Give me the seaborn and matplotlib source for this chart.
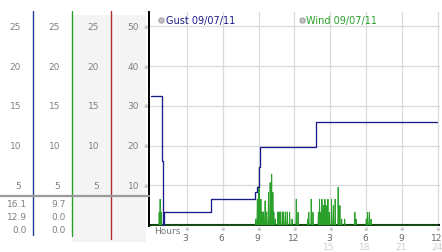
import matplotlib
matplotlib.use("Agg")
import matplotlib.pyplot as plt
import matplotlib.transforms as mtrans
import seaborn as sns
import pandas as pd

# ---------------- data ----------------
gust_hours = [0.0, 0.96, 1.04, 1.12, 5.05, 8.70, 8.85, 9.00, 9.12, 13.78, 23.9]
gust_values = [32.4, 16.1, 0.0, 3.2, 6.5, 8.2, 9.5, 14.5, 19.6, 25.9, 25.9]

wind_spike_hours = [0.70, 0.78, 0.88, 8.77, 8.90, 9.00, 9.07, 9.20, 9.30, 9.42, 9.55, 9.68,
                    9.83, 9.97, 10.10, 10.20, 10.28, 10.40, 10.62, 10.72, 10.82, 10.98,
                    11.10, 11.25, 11.40, 11.60, 11.80, 12.15, 12.30, 13.10, 13.20, 13.40,
                    13.55, 14.00, 14.10, 14.20, 14.30, 14.42, 14.55, 14.65, 14.80, 14.92,
                    15.10, 15.25, 15.40, 15.65, 15.80, 15.95, 16.20, 17.05, 17.15, 18.00,
                    18.10, 18.25, 18.40]
wind_spike_values = [3.2, 6.5, 3.2, 1.5, 6.5, 9.6, 14.6, 6.5, 3.3, 3.3, 6.1, 3.3,
                     8.2, 10.7, 12.8, 8.2, 3.3, 1.5, 3.3, 3.3, 3.3, 3.3,
                     3.3, 3.3, 3.3, 3.2, 1.5, 6.5, 3.2, 1.5, 3.2, 6.5,
                     3.2, 3.2, 6.5, 3.2, 6.5, 4.9, 6.5, 4.9, 6.5, 3.2,
                     6.5, 4.9, 6.5, 9.5, 4.9, 1.5, 1.5, 3.2, 1.5, 1.5,
                     3.2, 3.2, 1.5]

left_col_ticks = [25, 20, 15, 10, 5]
main_y_ticks = [50, 40, 30, 20, 10]
x_ticks = [3, 6, 9, 12, 15, 18, 21, 24]
x_tick_labels = ["3", "6", "9", "12", "3", "6", "9", "12"]
x_tick_faint = ["", "", "", "", "15", "18", "21", "24"]
col1_stats = ["16.1", "12.9", "0.0"]
col2_stats = ["9.7", "0.0", "0.0"]
gust_label = "Gust 09/07/11"
wind_label = "Wind 09/07/11"

# ---------------- styling ----------------
sns.set_style("white")
plt.rcParams["font.family"] = ["DejaVu Sans"]

W, H = 442, 253
fig = plt.figure(figsize=(W / 100, H / 100), dpi=100)

def fx(px):
    return px / W

def fy(py):
    return 1 - py / H

NAVY = "#1c1c8a"
GREEN = "#2aa02a"
TXT = "#808080"

# main axes
ax = fig.add_axes([fx(149), fy(227), fx(440) - fx(149), fy(13) - fy(227)])
ax.set_xlim(-0.15, 24.16)
ax.set_ylim(-0.25, 53.65)
ax.set_xticks(x_ticks)
ax.set_yticks(main_y_ticks)
ax.grid(True, color="#dadada", linewidth=0.9)
ax.tick_params(length=0, labelbottom=False, labelleft=False)
for s in ["top", "right", "bottom"]:
    ax.spines[s].set_visible(False)
ax.spines["left"].set_color("black")
ax.spines["left"].set_linewidth(1.4)

# wind series built from spikes
wx, wy = [0.0], [0.0]
for h, v in zip(wind_spike_hours, wind_spike_values):
    wx += [h - 0.035, h, h + 0.035]
    wy += [0.0, v, 0.0]
wx.append(24.0)
wy.append(0.0)
wind_df = pd.DataFrame({"hour": wx, "value": wy})
gust_df = pd.DataFrame({"hour": gust_hours, "value": gust_values})

ax.axhline(0, color="black", linewidth=1.5, zorder=2)
ax.axhline(-0.2, color="#66cc66", linewidth=0.8, zorder=2)
sns.lineplot(data=wind_df, x="hour", y="value", ax=ax, color=GREEN, linewidth=0.65,
             estimator=None, sort=False, zorder=3)
sns.lineplot(data=gust_df, x="hour", y="value", ax=ax, color=NAVY, linewidth=0.95,
             estimator=None, sort=False, drawstyle="steps-post", zorder=4)
ax.set_xlabel("")
ax.set_ylabel("")

# overlay axes in pixel coordinates
ov = fig.add_axes([0, 0, 1, 1], zorder=5)
ov.set_xlim(0, W)
ov.set_ylim(H, 0)
ov.axis("off")
ov.patch.set_alpha(0)

# blended transforms: x pixel / y data, and x data / y pixel
ty = mtrans.blended_transform_factory(ov.transData, ax.transData)
tx = mtrans.blended_transform_factory(ax.transData, ov.transData)

# left panel background + lines
ov.add_patch(plt.Rectangle((72, 16), 74, 227, color="#f4f4f4", zorder=0, linewidth=0))
ov.plot([33.3, 33.3], [12, 236], color="#1f3f9a", linewidth=1.0)
ov.plot([72.3, 72.3], [12, 237], color="#2aa02a", linewidth=1.0)
ov.plot([111.3, 111.3], [12, 240], color="#b03030", linewidth=1.0)
ov.plot([0, 149], [197, 197], color="#9a9a9a", linewidth=1.6)

fs = 6.5
for v in left_col_ticks:
    for xr in (21, 60, 99):
        ov.text(xr, 2 * v, str(v), transform=ty, ha="right", va="center",
                fontsize=fs, color=TXT)
for v in main_y_ticks:
    ov.text(139, v, str(v), transform=ty, ha="right", va="center", fontsize=fs, color=TXT)
    ov.text(145.5, v, "※", transform=ty, ha="center", va="center", fontsize=4, color="#999999")

for i, s in enumerate(col1_stats):
    ov.text(27, 205 + 13 * i, s, ha="right", va="center", fontsize=fs, color=TXT)
for i, s in enumerate(col2_stats):
    ov.text(66, 205 + 13 * i, s, ha="right", va="center", fontsize=fs, color=TXT)

# x tick labels
for t, lab, faint in zip(x_ticks, x_tick_labels, x_tick_faint):
    ov.text(t, 230, "※", transform=tx, ha="center", va="center", fontsize=4, color="#999999")
    ov.text(t - 0.1, 238.5, lab, transform=tx, ha="center", va="center", fontsize=fs,
            color="#666666")
    if faint:
        ov.text(t - 0.1, 247.5, faint, transform=tx, ha="center", va="center", fontsize=fs,
                color="#d0d0d0")
ov.text(167, 231.5, "Hours", ha="center", va="center", fontsize=fs, color="#777777")

# legend
ov.scatter([161, 301.7], [20.8, 20.8], s=14, facecolor="#c4c4c4", edgecolor="#999999",
           linewidth=0.7)
ov.text(165.5, 20.5, gust_label, ha="left", va="center", fontsize=7, color=NAVY)
ov.text(306, 20.5, wind_label, ha="left", va="center", fontsize=7, color=GREEN)

fig.savefig("out.png", dpi=100)
